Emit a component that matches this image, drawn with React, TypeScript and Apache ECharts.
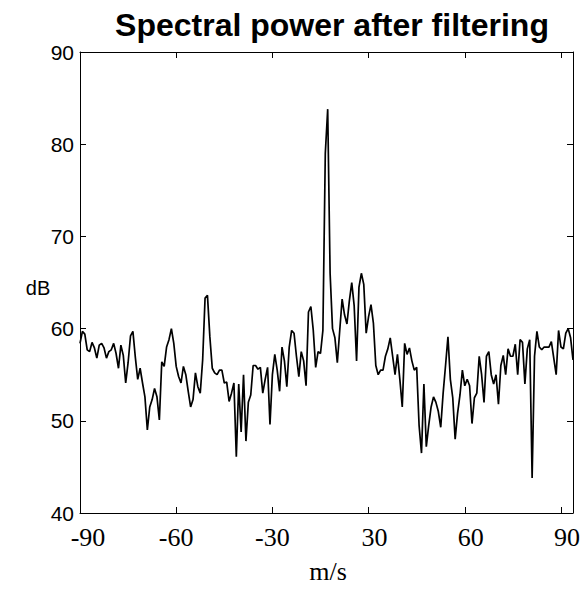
import React, { useEffect, useRef } from 'react';
import * as echarts from 'echarts';

// Tick labels printed under the evenly spaced x ticks (0 is skipped in the original)
const velocityTickLabels = ['-90', '-60', '-30', '30', '60', '90'];
const samplesPerTick = 40;
const sampleCount = 206;

const yMin = 40;
const yMax = 90;
const yStep = 10;

// Spectral power (dB) per velocity bin
const powerDb = [
  58.4, 59.7, 59.4, 57.7, 57.5, 58.5, 57.9, 56.8, 58.2, 58.4,
  57.9, 56.8, 57.5, 57.7, 58.4, 57.3, 55.7, 58.2, 57.1, 54.1,
  56.3, 59.2, 59.7, 56.9, 54.5, 55.7, 54.1, 52.6, 49.0, 51.5,
  52.3, 53.5, 52.6, 50.1, 56.4, 55.9, 58.0, 58.8, 60.0, 58.4,
  55.9, 54.8, 54.1, 55.9, 55.0, 53.2, 51.5, 52.3, 55.2, 53.7,
  53.0, 56.6, 63.3, 63.6, 59.1, 55.7, 55.2, 55.0, 55.5, 55.5,
  54.1, 54.2, 52.1, 53.0, 54.1, 46.1, 54.0, 48.8, 55.0, 47.8,
  52.0, 52.8, 56.0, 56.0, 55.6, 55.8, 53.0, 54.5, 55.8, 49.6,
  55.0, 57.2, 55.5, 53.2, 58.0, 56.5, 53.7, 58.0, 59.8, 59.5,
  57.0, 54.8, 57.5, 56.5, 53.8, 61.8, 62.4, 59.8, 55.8, 57.5,
  57.3, 59.8, 79.0, 83.8, 66.0, 60.0, 59.0, 56.3, 59.8, 63.2,
  61.5, 60.5, 63.0, 65.0, 62.5, 56.5, 64.5, 66.0, 64.8, 59.5,
  61.3, 62.6, 60.6, 56.0, 55.0, 55.5, 55.5, 57.0, 57.8, 59.0,
  57.0, 55.0, 57.2, 54.5, 51.5, 58.4, 57.2, 57.9, 56.5, 55.5,
  55.8, 49.5, 46.5, 54.0, 47.2, 49.5, 51.5, 52.6, 52.0, 51.0,
  49.3, 53.0, 56.0, 59.1, 54.5, 52.5, 48.0, 50.8, 52.8, 55.5,
  53.8, 54.5, 53.8, 49.7, 52.5, 53.0, 57.0, 55.0, 52.0, 57.0,
  57.5, 55.0, 54.0, 55.0, 51.8, 56.0, 57.1, 55.0, 57.8, 57.0,
  57.0, 58.3, 55.0, 58.8, 58.5, 54.0, 57.8, 58.8, 43.8, 57.0,
  59.7, 58.0, 57.7, 58.0, 58.0, 58.0, 58.6, 56.8, 55.0, 59.8,
  58.0, 57.8, 59.5, 60.0, 59.0, 56.6,
];

const titleText = 'Spectral power after filtering';
const xName = 'm/s';
const yName = 'dB';

export default function App() {
  const ref = useRef<HTMLDivElement>(null);

  useEffect(() => {
    if (!ref.current) return;
    const chart = echarts.init(ref.current, null, { renderer: 'svg' });

    const serif = 'Liberation Serif, Times New Roman, serif';
    const sans = 'Liberation Sans, Arial, sans-serif';

    const xLabelFormatter = (v: number) => {
      const k = Math.round(v / samplesPerTick);
      if (Math.abs(v - k * samplesPerTick) > 0.01) return '';
      const lab = velocityTickLabels[k];
      if (lab === undefined) return '';
      if (k === 0) return `{f|${lab}}`;
      if (lab.startsWith('-')) return `{n|${lab}}`;
      return `{p|${lab}}`;
    };

    const richBase = { fontFamily: serif, fontSize: 26, color: '#000' };

    const axisLineStyle = { color: '#000', width: 1 };

    chart.setOption({
      animation: false,
      backgroundColor: '#ffffff',
      grid: { left: 80, right: 10, top: 52, bottom: 81, show: false },
      xAxis: [
        {
          type: 'value',
          min: 0,
          max: sampleCount - 1,
          interval: samplesPerTick,
          position: 'bottom',
          axisLine: { show: true, onZero: false, lineStyle: axisLineStyle },
          axisTick: { show: true, inside: true, length: 6, lineStyle: axisLineStyle },
          axisLabel: {
            margin: 11,
            formatter: xLabelFormatter,
            color: '#000',
            fontFamily: serif,
            fontSize: 26,
            rich: {
              f: { ...richBase, padding: [0, 0, 0, 16] },
              n: { ...richBase },
              p: { ...richBase, padding: [0, 0, 0, 12] },
            },
          },
          splitLine: { show: false },
        },
        {
          type: 'value',
          min: 0,
          max: sampleCount - 1,
          interval: samplesPerTick,
          position: 'top',
          axisLine: { show: true, onZero: false, lineStyle: axisLineStyle },
          axisTick: { show: true, inside: true, length: 6, lineStyle: axisLineStyle },
          axisLabel: { show: false },
          splitLine: { show: false },
        },
      ],
      yAxis: [
        {
          type: 'value',
          min: yMin,
          max: yMax,
          interval: yStep,
          position: 'left',
          axisLine: { show: true, onZero: false, lineStyle: axisLineStyle },
          axisTick: { show: true, inside: true, length: 6, lineStyle: axisLineStyle },
          axisLabel: { margin: 6, color: '#000', fontFamily: sans, fontSize: 21 },
          splitLine: { show: false },
        },
        {
          type: 'value',
          min: yMin,
          max: yMax,
          interval: yStep,
          position: 'right',
          axisLine: { show: true, onZero: false, lineStyle: axisLineStyle },
          axisTick: { show: true, inside: true, length: 6, lineStyle: axisLineStyle },
          axisLabel: { show: false },
          splitLine: { show: false },
        },
      ],
      series: [
        {
          type: 'line',
          xAxisIndex: 0,
          yAxisIndex: 0,
          data: powerDb.map((v, i) => [i, v]),
          showSymbol: false,
          symbol: 'none',
          lineStyle: { color: '#000', width: 1.7 },
        },
      ],
      graphic: [
        {
          type: 'text',
          x: 332,
          y: 25,
          style: {
            text: titleText,
            fontFamily: sans,
            fontWeight: 'bold',
            fontSize: 32,
            fill: '#000',
            textAlign: 'center',
            textVerticalAlign: 'middle',
          },
        },
        {
          type: 'text',
          x: 38,
          y: 288,
          style: {
            text: yName,
            fontFamily: sans,
            fontSize: 20,
            fill: '#000',
            textAlign: 'center',
            textVerticalAlign: 'middle',
          },
        },
        {
          type: 'text',
          x: 328,
          y: 571,
          style: {
            text: xName,
            fontFamily: serif,
            fontSize: 26,
            fill: '#000',
            textAlign: 'center',
            textVerticalAlign: 'middle',
          },
        },
      ],
    });

    return () => chart.dispose();
  }, []);

  return (
    <div
      ref={ref}
      style={{ position: 'absolute', left: 0, top: 0, width: 583, height: 594 }}
    />
  );
}
